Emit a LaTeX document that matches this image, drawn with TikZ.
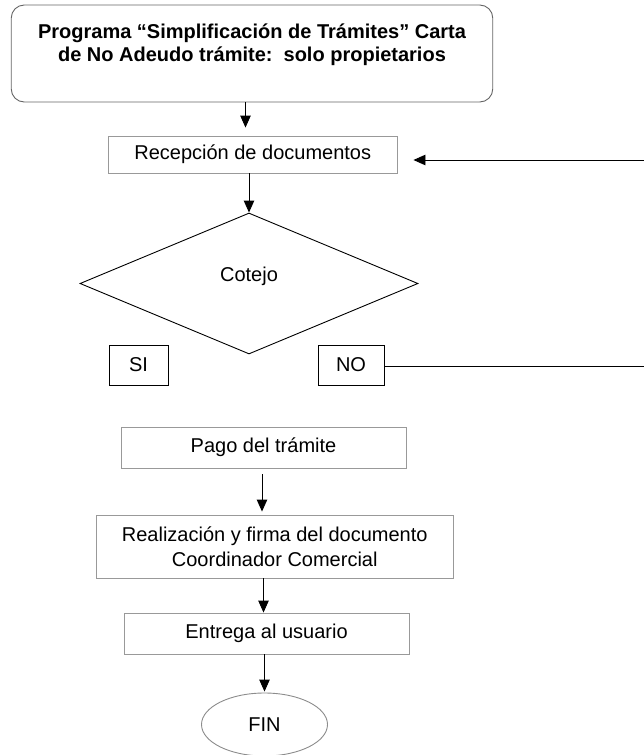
\documentclass[tikz,border=0pt]{standalone}
\usepackage{fontspec}
\setmainfont{Liberation Sans}
\usetikzlibrary{arrows.meta,shapes.geometric}
\begin{document}
\begin{tikzpicture}[x=1pt,y=-1pt,
  every node/.style={font=\fontsize{20}{23}\selectfont, inner sep=0pt},
  graybox/.style={draw=black!40, line width=0.9pt, rectangle, align=center},
  blackbox/.style={draw=black, line width=0.9pt, rectangle, align=center},
  arr/.style={draw=black, line width=0.9pt, -{Triangle[length=12pt,width=10.5pt]}},
  plain/.style={draw=black, line width=0.9pt}]
\useasboundingbox (0,0) rectangle (644,755);
% title
\node[draw=black!60, line width=0.9pt, rounded corners=13pt, minimum width=481.5pt, minimum height=97pt] (title) at (252,53.5) {};
\node[align=center, font=\fontsize{20}{23}\selectfont\bfseries] (titletext) at (252,44.5) {Programa “Simplificación de Trámites” Carta\\de No Adeudo trámite:\ \ solo propietarios};
% boxes
\node[graybox, minimum width=289.5pt, minimum height=37pt] (rec) at (252.75,154.5) {Recepción de documentos};
\node[draw=black, line width=0.9pt, diamond, minimum width=338pt, minimum height=141pt] (dia) at (249,283.5) {};
\node (cot) at (249,276) {Cotejo};
\node[blackbox, minimum width=59pt, minimum height=40pt] (si) at (138.5,365) {SI};
\node[blackbox, minimum width=66pt, minimum height=40pt] (no) at (351,365) {NO};
\node[graybox, minimum width=285pt, minimum height=41pt] (pago) at (263.5,447.5) {Pago del trámite};
\node[graybox, minimum width=356.5pt, minimum height=63pt, font=\fontsize{20}{25}\selectfont] (real) at (274.75,546.5) {Realización y firma del documento\\Coordinador Comercial};
\node[graybox, minimum width=285pt, minimum height=41pt] (ent) at (266.5,633.5) {Entrega al usuario};
\node[draw=black!45, line width=0.9pt, ellipse, minimum width=126pt, minimum height=63pt] (fin) at (264.5,724.5) {FIN};
% right side coordinates
\coordinate (rin) at (644,160);
\coordinate (nout) at (644,366);
% connectors
\draw[arr, shorten >=8pt] ([xshift=-6.5pt]title.south) -- ([xshift=-6.5pt]title.south |- rec.north);
\draw[arr] (rec.south -| dia.north) -- (dia.north);
\draw[arr] (rin) -- ([xshift=15.5pt]rec.east |- rin);
\draw[plain] (no.east |- nout) -- (nout);
\draw[arr, shorten <=6pt, shorten >=3pt] ([xshift=-1.5pt]pago.south) -- ([xshift=-1.5pt]pago.south |- real.north);
\draw[arr] ([xshift=-3pt]ent.north |- real.south) -- ([xshift=-3pt]ent.north);
\draw[arr, shorten >=1pt] (fin.north |- ent.south) -- (fin.north);
\end{tikzpicture}
\end{document}
